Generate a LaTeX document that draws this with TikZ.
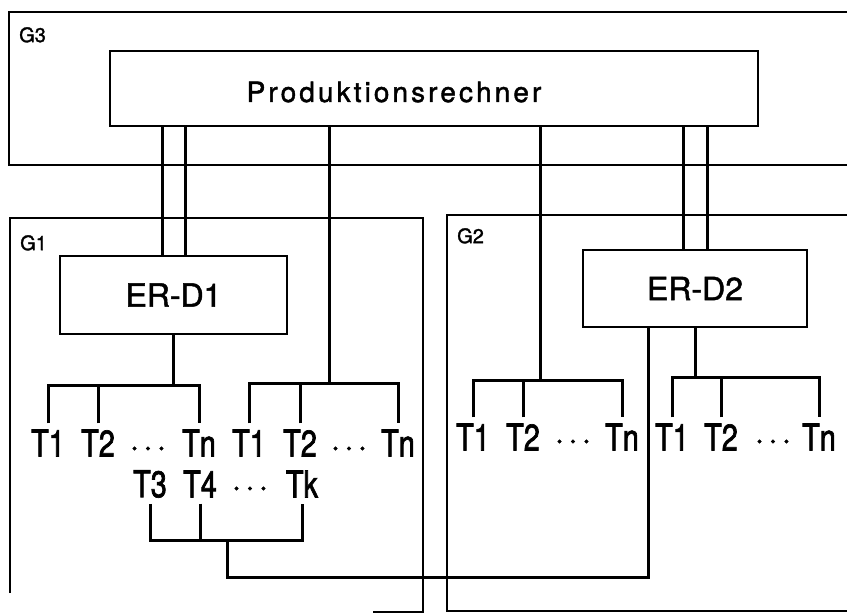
\documentclass[tikz,border=0pt]{standalone}
\usepackage{fontspec}
\usepackage{tikz}
\usetikzlibrary{positioning,calc}
\newfontfamily\diafont{TeX Gyre Heros}
\newfontfamily\diabold[FakeBold=1.5]{TeX Gyre Heros}
\newfontfamily\diawide[LetterSpace=11,FakeBold=1.5]{TeX Gyre Heros}
\newfontfamily\dianarrow[FakeStretch=0.78,FakeBold=1.8]{TeX Gyre Heros}
\tikzset{
    frame/.style = {line width=1.5pt},
    wire/.style = {line width=3pt},
    unit/.style = {rectangle, draw, line width=2.8pt, inner sep=0pt, text centered, font={\diabold\fontsize{32}{34}\selectfont}},
    term/.style = {inner xsep=0pt, inner ysep=6pt, font={\dianarrow\fontsize{37}{40}\selectfont}},
    dots/.style = {anchor=base, inner sep=0pt, font={\diabold\fontsize{34}{40}\selectfont}},
    grp/.style = {anchor=north west, inner sep=0pt, font={\diabold\fontsize{20}{22}\selectfont}}
}

\begin{document}
\begin{tikzpicture}[x=1pt, y=-1pt]
    \useasboundingbox (0,0) rectangle (847,613);

    % Groups
    \draw[frame] (847,12) -- (9,12) -- (9,165) -- (847,165);
    \draw[frame] (10,593) -- (10,218) -- (423,218) -- (423,612) -- (373,612);
    \draw[frame] (847,215) -- (447,215) -- (447,611) -- (847,611);
    \node[grp] (g3) at (19,27) {G3};
    \node[grp] (g1) at (20,235) {G1};
    \node[grp] (g2) at (457,228) {G2};

    % Nodes
    \node[unit, minimum width=648pt, minimum height=75pt] (prod) at (434,88.5) {};
    \node[font={\diawide\fontsize{28}{30}\selectfont}, inner sep=0pt] (prodlabel) at (394,92) {Produktionsrechner};
    \node[unit, minimum width=227pt, minimum height=78pt] (erd1) at (173.5,295) {ER-D1};
    \node[unit, minimum width=224pt, minimum height=77pt] (erd2) at (695,288.5) {ER-D2};

    % Terminals
    \node[term] (t1a) at (48,443) {T1};
    \node[term] (t1b) at (98,443) {T2};
    \node[term] (t1n) at (199,443) {Tn};
    \node[dots] (d1) at (148,457) {·\hspace{4pt}·\hspace{4pt}·};
    \node[term] (t2a) at (249,443) {T1};
    \node[term] (t2b) at (300,443) {T2};
    \node[term] (t2n) at (398,443) {Tn};
    \node[dots] (d2) at (349,457) {·\hspace{4pt}·\hspace{4pt}·};
    \node[term] (t3a) at (150,484) {T3};
    \node[term] (t3b) at (200,484) {T4};
    \node[term] (t3k) at (302,484) {Tk};
    \node[dots] (d3) at (250,497) {·\hspace{4pt}·\hspace{4pt}·};
    \node[term] (t4a) at (473,437) {T1};
    \node[term] (t4b) at (523,437) {T2};
    \node[term] (t4n) at (622,437) {Tn};
    \node[dots] (d4) at (573,450) {·\hspace{4pt}·\hspace{4pt}·};
    \node[term] (t5a) at (672,437) {T1};
    \node[term] (t5b) at (721,437) {T2};
    \node[term] (t5n) at (819,437) {Tn};
    \node[dots] (d5) at (773,450) {·\hspace{4pt}·\hspace{4pt}·};

    % Bus points
    \coordinate (b1) at (173.5,385);
    \coordinate (b2) at (329,383);
    \coordinate (b3) at (227,540);
    \coordinate (b4) at (540,380);
    \coordinate (b5) at (695,377);
    \coordinate (c1) at (648,577);

    % Lines
    \draw[wire] ([xshift=-11.5pt]erd1.north) -- ([xshift=-11.5pt]erd1.north |- prod.south);
    \draw[wire] ([xshift=11.5pt]erd1.north) -- ([xshift=11.5pt]erd1.north |- prod.south);
    \draw[wire] ([xshift=-12pt]erd2.north) -- ([xshift=-12pt]erd2.north |- prod.south);
    \draw[wire] ([xshift=12pt]erd2.north) -- ([xshift=12pt]erd2.north |- prod.south);
    \draw[wire] (prod.south -| b2) -- (b2);
    \draw[wire] (prod.south -| b4) -- (b4);
    \draw[wire] (erd1.south) -- (b1);
    \draw[wire] (erd2.south) -- (b5);

    \draw[wire] (t1a.north) |- (b1) -| (t1n.north);
    \draw[wire] (t1b.north) -- (t1b.north |- b1);
    \draw[wire] (t2a.north) |- (b2) -| (t2n.north);
    \draw[wire] (t2b.north) -- (t2b.north |- b2);
    \draw[wire] (t4a.north) |- (b4) -| (t4n.north);
    \draw[wire] (t4b.north) -- (t4b.north |- b4);
    \draw[wire] (t5a.north) |- (b5) -| (t5n.north);
    \draw[wire] (t5b.north) -- (t5b.north |- b5);

    \draw[wire] (t3a.south) |- (b3) -| (t3k.south);
    \draw[wire] (t3b.south) -- (t3b.south |- b3);
    \draw[wire] (b3) |- (c1) -- (c1 |- erd2.south);
\end{tikzpicture}
\end{document}
